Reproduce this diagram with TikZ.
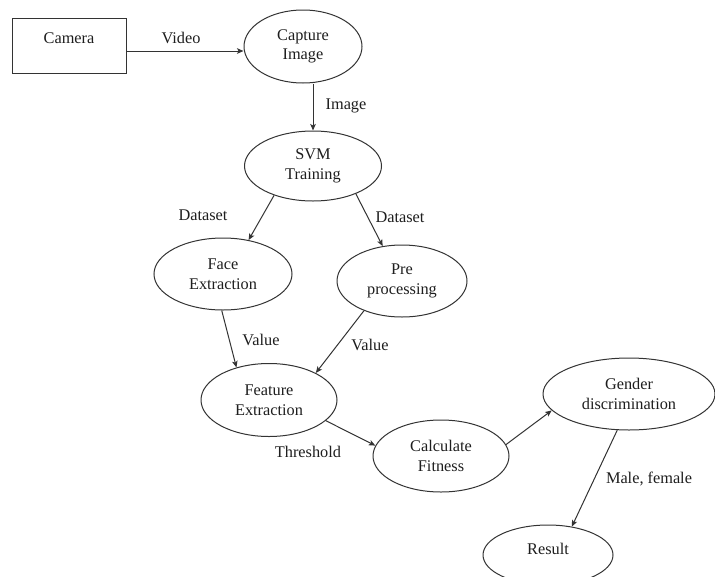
\documentclass[tikz,border=0pt]{standalone}
\usepackage{fontspec}
\setmainfont{Liberation Serif}
\usetikzlibrary{shapes.geometric,arrows.meta}
\definecolor{ln}{HTML}{333333}
\definecolor{tx}{HTML}{1E1E1E}
\begin{document}
\begin{tikzpicture}[x=1pt,y=-1pt,
  every node/.style={text=tx,font=\fontsize{16.3}{19.5}\selectfont},
  ell/.style={draw=ln,line width=1pt,ellipse,inner sep=0pt,align=center},
  box/.style={draw=ln,line width=1pt,rectangle,inner sep=0pt},
  arr/.style={draw=ln,line width=1pt,-{Stealth[length=6.5pt,width=5.5pt,inset=1.5pt]}},
  lbl/.style={inner sep=1pt}]
\clip (0,0) rectangle (715,576);
\fill[white] (0,0) rectangle (715,576);
\node[box,minimum width=114pt,minimum height=55pt] (cam) at (69,45.5) {};
\node (camt) at (69,38) {Camera};
\node[ell,minimum width=118pt,minimum height=73pt] (cap) at (303,46.5) {Capture\\Image};
\node[ell,minimum width=137pt,minimum height=70pt] (svm) at (313,166) {SVM\\Training};
\node[ell,minimum width=138pt,minimum height=72pt] (face) at (223,274) {Face\\Extraction};
\node[ell,minimum width=130pt,minimum height=72pt] (pre) at (402,281) {Pre\\processing};
\node[ell,minimum width=136pt,minimum height=73pt] (feat) at (269,400) {Feature\\Extraction};
\node[ell,minimum width=136pt,minimum height=72pt] (calc) at (441,456) {Calculate\\Fitness};
\node[ell,minimum width=172pt,minimum height=72pt] (gen) at (629,394) {Gender\\discrimination};
\node[ell,minimum width=130pt,minimum height=60pt] (res) at (548,555) {};
\node (rest) at (548,549) {Result};

\draw[arr] ([yshift=-5.5pt]cam.east) -- ([yshift=-4.5pt]cap.west);
\draw[arr] (svm.north |- cap.south) -- (svm.north);
\draw[arr] (svm.217) -- (face.53);
\draw[arr] (svm.-33) -- (pre.119);
\draw[arr] (face.-92) -- (feat.135);
\draw[arr] (pre.218) -- (feat.30);
\draw[arr] (feat.-20) -- (calc.171);
\draw[arr] (calc.10) -- (gen.192);
\draw[arr] (gen.252) -- (res.50);

\node[lbl] (l1) at (181,38) {Video};
\node[lbl] (l2) at (346,106) {Image};
\node[lbl] (l3) at (203,215) {Dataset};
\node[lbl] (l4) at (400,217) {Dataset};
\node[lbl] (l5) at (261,340) {Value};
\node[lbl] (l6) at (370,345) {Value};
\node[lbl] (l7) at (308,452) {Threshold};
\node[lbl] (l8) at (649,479) {Male, female};
\end{tikzpicture}
\end{document}
